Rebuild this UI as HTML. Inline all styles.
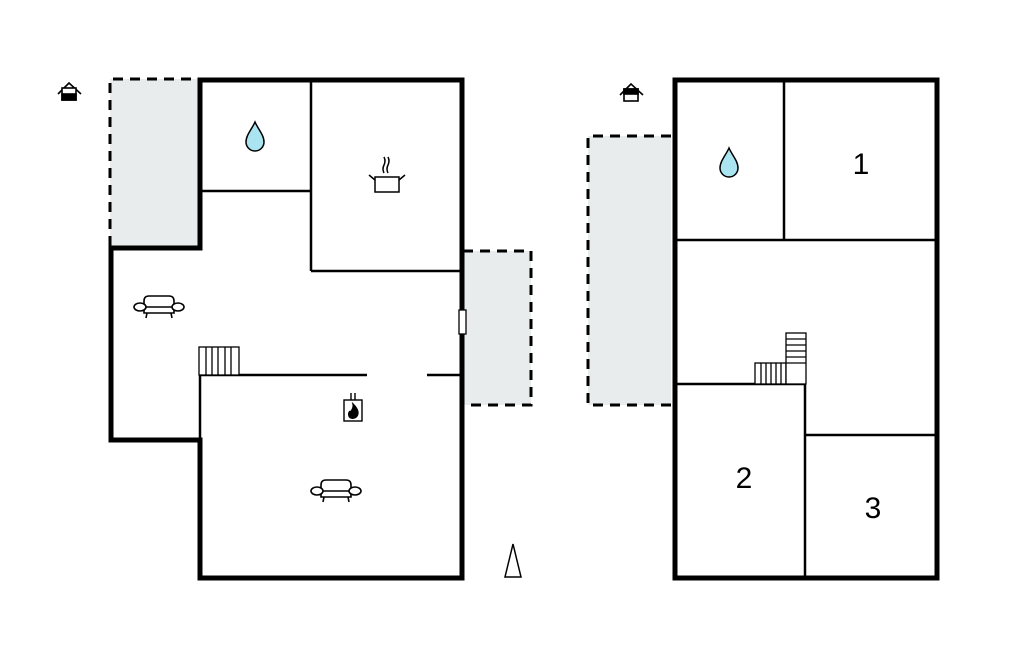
<!DOCTYPE html>
<html><head><meta charset="utf-8"><style>html,body{margin:0;padding:0;background:#fff}svg{display:block}</style></head><body>
<svg width="1024" height="652" viewBox="0 0 1024 652" xmlns="http://www.w3.org/2000/svg">
<defs>
<g id="sofa" fill="#fff" stroke="#000" stroke-width="1.6">
<path d="M-15,-6 Q-15,-11 -10,-11 L10,-11 Q15,-11 15,-6 L15,6 L-15,6 Z"/>
<line x1="-15" y1="0" x2="15" y2="0"/>
<ellipse cx="-19" cy="0" rx="6" ry="4"/>
<ellipse cx="19" cy="0" rx="6" ry="4"/>
<line x1="-12" y1="6" x2="-13" y2="11"/><line x1="12" y1="6" x2="13" y2="11"/>
</g>
<g id="drop"><path d="M0,-15 C3,-8 9,-2 9,5 A9,9 0 0 1 -9,5 C-9,-2 -3,-8 0,-15 Z" fill="#a9e4f0" stroke="#000" stroke-width="1.5"/></g>
</defs>
<!-- left plan grey areas -->
<rect x="110" y="79" width="89" height="168" fill="#e9eced"/>
<path d="M110,246 V79 H199" fill="none" stroke="#000" stroke-width="3" stroke-dasharray="10,7"/>
<rect x="463" y="251" width="68" height="154" fill="#e9eced"/>
<path d="M463,251 H531 V405 H463" fill="none" stroke="#000" stroke-width="3" stroke-dasharray="10,7"/>
<!-- left outer walls -->
<path d="M200,248 V80 H462 V578 H200 V440 H111 V248 Z" fill="none" stroke="#000" stroke-width="5"/>
<!-- inner walls -->
<g stroke="#000" stroke-width="2.5" fill="none">
<line x1="200" y1="191" x2="311" y2="191"/>
<line x1="311" y1="80" x2="311" y2="271"/>
<line x1="311" y1="271" x2="462" y2="271"/>
<line x1="200" y1="375" x2="367" y2="375"/>
<line x1="427" y1="375" x2="462" y2="375"/>
<line x1="200" y1="375" x2="200" y2="440"/>
</g>
<!-- window -->
<rect x="459" y="310" width="7" height="24" fill="#fff" stroke="#000" stroke-width="1.3"/>
<!-- stairs left -->
<g stroke="#000" stroke-width="1.3" fill="#fff">
<rect x="199" y="347" width="40" height="28"/>
<line x1="206" y1="347" x2="206" y2="375"/><line x1="212" y1="347" x2="212" y2="375"/><line x1="218" y1="347" x2="218" y2="375"/><line x1="225" y1="347" x2="225" y2="375"/><line x1="231" y1="347" x2="231" y2="375"/>
</g>
<use href="#drop" x="255" y="137"/>
<use href="#sofa" x="159" y="307"/>
<use href="#sofa" x="336" y="491"/>
<!-- pot -->
<g stroke="#000" stroke-width="1.5" fill="none">
<rect x="375" y="177" width="24" height="15" fill="#fff"/>
<line x1="369" y1="175" x2="375" y2="180"/><line x1="405" y1="175" x2="399" y2="180"/>
<path d="M384,173 q-2,-4 0,-8 q2,-4 0,-8"/><path d="M388,173 q-2,-4 0,-8 q2,-4 0,-8"/>
</g>
<!-- fireplace -->
<g stroke="#000" stroke-width="1.4" fill="none">
<rect x="344" y="400" width="18" height="21" fill="#fff"/>
<line x1="351" y1="393" x2="351" y2="400"/><line x1="355" y1="393" x2="355" y2="400"/>
<path d="M353,404 C358,409 359,413 357,416 C355,419 350,419 349,416 C348,413 350,410 351,412 C352,409 354,408 353,404 Z" fill="#000"/>
</g>
<!-- north -->
<path d="M513,544 L521,577 L505,577 Z" fill="#fff" stroke="#000" stroke-width="1.5"/>
<!-- house icons -->
<g stroke="#000" stroke-width="1.6" fill="none">
<path d="M58,94 L69,83 L81,94"/><rect x="62" y="88" width="14" height="12" fill="#fff"/>
<rect x="62" y="94" width="14" height="6" fill="#000"/>
<path d="M620,95 L631,84 L643,95"/><rect x="624" y="89" width="14" height="12" fill="#fff"/>
<rect x="624" y="89" width="14" height="5" fill="#000"/>
</g>
<!-- right plan -->
<rect x="588" y="136" width="83" height="269" fill="#e9eced"/>
<path d="M671,136 H588 V405 H671" fill="none" stroke="#000" stroke-width="3" stroke-dasharray="10,7"/>
<rect x="675" y="80" width="262" height="498" fill="none" stroke="#000" stroke-width="5"/>
<g stroke="#000" stroke-width="2.5" fill="none">
<line x1="784" y1="80" x2="784" y2="240"/>
<line x1="675" y1="240" x2="937" y2="240"/>
<line x1="675" y1="384" x2="806" y2="384"/>
<line x1="805" y1="384" x2="805" y2="578"/>
<line x1="805" y1="435" x2="937" y2="435"/>
</g>
<g stroke="#000" stroke-width="1.3" fill="#fff">
<rect x="755" y="363" width="31" height="21"/>
<line x1="761" y1="363" x2="761" y2="384"/><line x1="766" y1="363" x2="766" y2="384"/><line x1="771" y1="363" x2="771" y2="384"/><line x1="776" y1="363" x2="776" y2="384"/><line x1="781" y1="363" x2="781" y2="384"/>
<rect x="786" y="333" width="20" height="51"/>
<line x1="786" y1="339" x2="806" y2="339"/><line x1="786" y1="345" x2="806" y2="345"/><line x1="786" y1="351" x2="806" y2="351"/><line x1="786" y1="357" x2="806" y2="357"/><line x1="786" y1="363" x2="806" y2="363"/>
</g>
<use href="#drop" x="729" y="163"/>
<g font-family="Liberation Sans, sans-serif" font-size="30" text-anchor="middle" fill="#000">
<text x="861" y="174">1</text>
<text x="744" y="488">2</text>
<text x="873" y="518">3</text>
</g>
</svg>
</body></html>
